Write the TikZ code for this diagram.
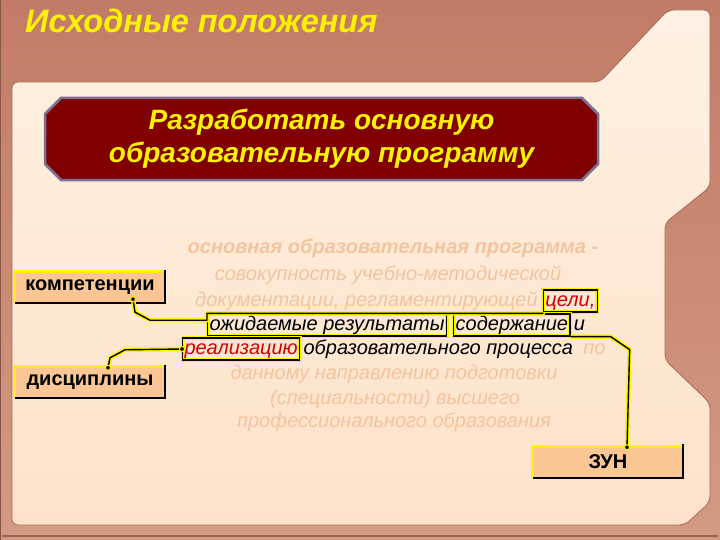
\documentclass[tikz,border=0pt]{standalone}
\usepackage{fontspec}
\setmainfont{Liberation Sans}
\usetikzlibrary{calc,shapes.misc}
\definecolor{bgtop}{HTML}{C27B66}
\definecolor{bgbot}{HTML}{D39A83}
\definecolor{paneltop}{HTML}{FEF1E3}
\definecolor{panelbot}{HTML}{FDE2C8}
\definecolor{darkred}{HTML}{800000}
\definecolor{fadec}{HTML}{F3C4A0}
\definecolor{boxfill}{HTML}{FAC693}
\definecolor{bevel}{HTML}{7A7092}
\definecolor{redtxt}{HTML}{D80000}
\tikzset{
  body/.style={font=\fontsize{20}{25}\selectfont\itshape, inner sep=0pt},
  fade/.style={body, text=fadec},
  hl/.style={body, draw=black, line width=1.2pt, inner xsep=2pt, inner ysep=2pt,
    text height=14pt, text depth=4pt, preaction={draw=yellow, line width=4pt}},
  lbox/.style={fill=boxfill, minimum width=150pt, minimum height=31pt,
    font=\fontsize{20}{23}\selectfont\bfseries, inner sep=0pt},
  glow/.style={draw=black, line width=1.4pt, line join=round,
    preaction={draw=yellow, line width=4.5pt, line join=round}},
  dotn/.style={circle, fill=black, draw=yellow, line width=1pt, inner sep=0pt, minimum size=5pt}
}
\begin{document}
\begin{tikzpicture}[x=1pt,y=-1pt]
\useasboundingbox (0,0) rectangle (720,540);
% frame background
\shade[top color=bgtop, bottom color=bgbot] (0,0) rectangle (720,540);
\draw[line width=1pt, color=bgtop!70!black] (0,0) rectangle (720,540);
\draw[line width=2pt, color=bgtop!80!black] (2,536) -- (718,536);
% cream panel
\shade[top color=paneltop, bottom color=panelbot, draw=bgtop!85!black, line width=0.8pt, rounded corners=6pt]
  (12,82) -- (600,82) -- (668,10) -- (710,10) -- (710,187) -- (665,223) -- (665,360)
  -- (710,403) -- (710,502) -- (685,525) -- (12,525) -- cycle;
% title
\node[anchor=base west, inner sep=0pt, text=yellow, font=\fontsize{32.5}{36}\selectfont\bfseries\itshape]
  (title) at (25,33) {Исходные положения};
% main dark box
\node[chamfered rectangle, chamfered rectangle xsep=8pt, chamfered rectangle ysep=8pt,
  fill=darkred, draw=bevel, line width=2.5pt, minimum width=553pt, minimum height=74pt,
  text=yellow, align=center, font=\fontsize{28}{33}\selectfont\bfseries\itshape]
  (main) at (321.5,139) {Разработать основную\\образовательную программу};
% definition text
\node[fade, font=\fontsize{20}{25}\selectfont\bfseries\itshape, anchor=base] (l1) at (393,254)
  {основная образовательная программа -};
\node[fade, anchor=base] (l2) at (388,280) {совокупность учебно-методической};
\node[fade, anchor=base west] (l3) at (195,306) {документации, регламентирующей};
\node[hl, anchor=base west, text=redtxt] (celi) at ($(l3.base east)+(5,0)$) {цели,};
\node[hl, anchor=base west] (ozh) at (207,330) {ожидаемые результаты};
\node[hl, anchor=base west] (sod) at ($(ozh.base east)+(6,0)$) {содержание};
\node[body, anchor=base west] (i) at ($(sod.base east)+(3,0)$) {и};
\node[hl, anchor=base west, text=redtxt] (real) at (182,354) {реализацию};
\node[body, anchor=base west] (proc) at ($(real.base east)+(3,0)$) {образовательного процесса};
\node[fade, anchor=base west] (po) at ($(proc.base east)+(10,0)$) {по};
\node[fade, anchor=base] (l6) at (394,379) {данному  направлению подготовки};
\node[fade, anchor=base] (l7) at (395,404) {(специальности) высшего};
\node[fade, anchor=base] (l8) at (394,427) {профессионального образования};
% left boxes and ZUN
\node[lbox] (komp) at (90,287.5) {компетенции};
\node[lbox] (disc) at (90,382.5) {дисциплины};
\node[lbox] (zun) at (608,462) {ЗУН};
\foreach \b in {komp,disc,zun}{
  \draw[yellow, line width=3pt, opacity=0.85] (\b.south west) -- (\b.north west) -- (\b.north east);
  \draw[black, line width=1.8pt] ($(\b.north east)+(0,-2)$) -- (\b.south east) -- (\b.south west);
}
% connectors
\coordinate (c1) at ($(komp.south)+(43,-4)$);
\coordinate (c2) at ($(disc.north)+(18,1)$);
\coordinate (c3) at ($(zun.north)+(19,1)$);
\draw[glow] (c1) -- ++(2,13) -- ++(15,8) -| (ozh.north west)
  -- (ozh.north west -| celi.south west) -- (celi.south west);
\draw[glow] (c2) -- ++(2,-10) -- ++(15,-8) -- (real.west);
\draw[glow] (sod.south east) -- ++(40,0) -- ++(19,13) -- (c3);
\node[dotn] (d1) at (c1) {};
\node[dotn] (d2) at (c2) {};
\node[dotn] (d3) at (c3) {};
\node[dotn] (d4) at (real.west) {};
\end{tikzpicture}
\end{document}
